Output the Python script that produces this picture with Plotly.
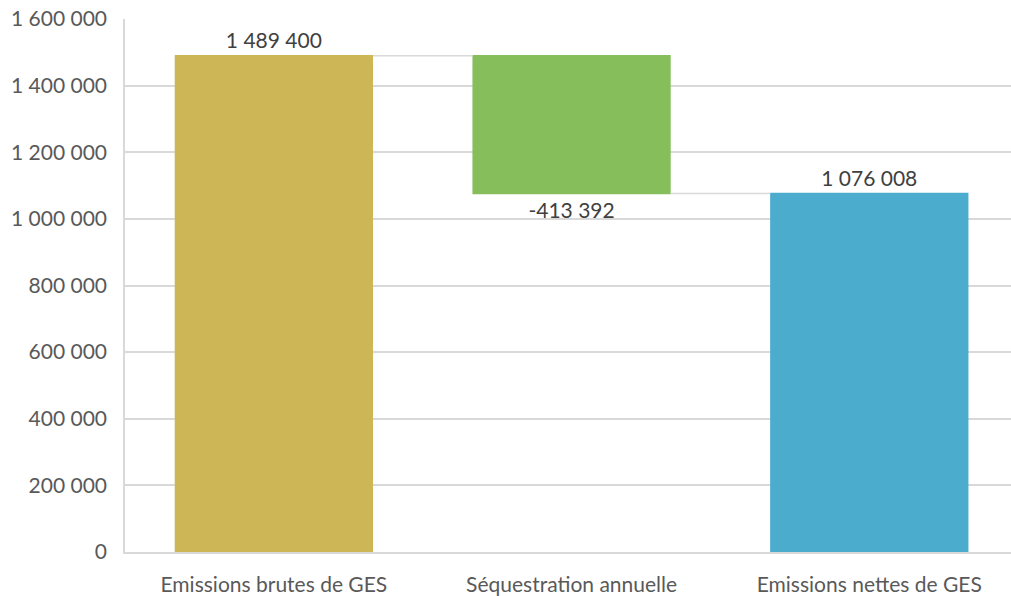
import plotly.graph_objects as go

categories = ["Emissions brutes de GES", "Séquestration annuelle", "Emissions nettes de GES"]
values = [1489400, -413392, 0]
measures = ["relative", "relative", "total"]
net_value = values[0] + values[1]
labels_values = [values[0], values[1], net_value]
y_ticks = [0, 200000, 400000, 600000, 800000, 1000000, 1200000, 1400000, 1600000]

def fmt(v):
    s = f"{abs(v):,}".replace(",", " ")
    return ("-" if v < 0 else "") + s

font_family = "Lato, Open Sans, sans-serif"

fig = go.Figure(go.Waterfall(
    x=categories,
    y=values,
    measure=measures,
    text=[fmt(v) for v in labels_values],
    textposition="outside",
    textfont=dict(family=font_family, size=21, color="#404040"),
    increasing=dict(marker=dict(color="#CDB655")),
    decreasing=dict(marker=dict(color="#87BE5C")),
    totals=dict(marker=dict(color="#4BACCE")),
    connector=dict(line=dict(color="#D9D9D9", width=1.5)),
    width=0.666,
    cliponaxis=False,
    hoverinfo="skip",
))

fig.update_layout(
    width=1011, height=596,
    margin=dict(l=125, r=0, t=19, b=44, autoexpand=False),
    paper_bgcolor="white", plot_bgcolor="white",
    showlegend=False,
    separators=", ",
    font=dict(family=font_family, size=21, color="#595959"),
    xaxis=dict(
        range=[-0.5, 2.476],
        automargin=False,
        showgrid=False,
        showline=True, linecolor="#D9D9D9", linewidth=1.5,
        ticks="outside", ticklen=13, tickcolor="rgba(0,0,0,0)",
        ticklabeloverflow="allow",
        tickfont=dict(family=font_family, size=21, color="#595959"),
    ),
    yaxis=dict(
        range=[0, 1600000],
        automargin=False,
        tickvals=y_ticks,
        ticktext=[fmt(v) for v in y_ticks],
        showgrid=True, gridcolor="#D9D9D9", gridwidth=1.5,
        showline=True, linecolor="#D9D9D9", linewidth=1.5,
        zeroline=False,
        ticks="outside", ticklen=12, tickcolor="rgba(0,0,0,0)",
        ticklabeloverflow="allow",
        tickfont=dict(family=font_family, size=21, color="#595959"),
    ),
)

fig.write_html(
    "out.html",
    config={"displayModeBar": False},
    post_script="document.body.style.margin='0';document.body.style.overflow='hidden';",
)
